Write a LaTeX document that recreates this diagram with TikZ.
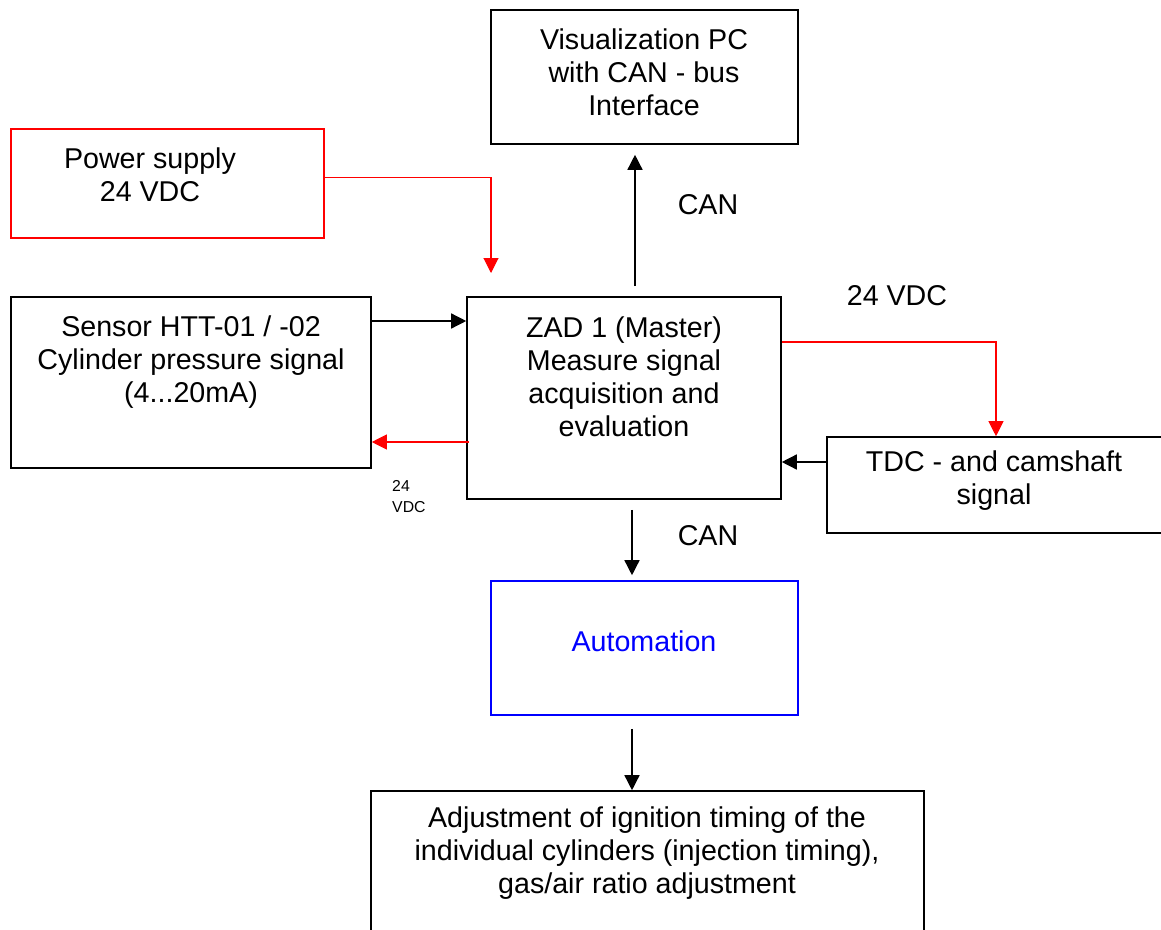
\documentclass[tikz,border=0pt]{standalone}
\usepackage{fontspec}
\setmainfont{Liberation Sans}
\usetikzlibrary{arrows.meta,fit}

\begin{document}
\begin{tikzpicture}[x=0.02cm,y=-0.02cm,
  blk/.style={draw,line width=0.9pt,inner sep=0pt},
  txt/.style={align=center,font=\fontsize{16.3}{18.7}\selectfont},
  sig/.style={line width=0.8pt,-{Triangle[length=0.3cm,width=0.3cm]}},
  pwr/.style={sig,red,line width=0.6pt}]

\useasboundingbox (0,0) rectangle (1161,930);
\clip (0,0) rectangle (1161,930);

% blocks
\node[blk,fit={(491,10) (798,144)}] (viz) {};
\node[txt] (vizText) at (644,72) {Visualization PC\\with CAN - bus\\Interface};

\node[blk,draw=red,fit={(11,129) (324,238)}] (power) {};
\node[txt] (powerText) at (150,175) {Power supply\\24 VDC};

\node[blk,fit={(11,297) (371,468)}] (sensor) {};
\node[txt] (sensorText) at (191,362) {Sensor HTT-01 / -02\\Cylinder pressure signal\\(4...20mA)};

\node[blk,fit={(467,297) (781,499)}] (zad) {};
\node[txt] (zadText) at (624,377) {ZAD 1 (Master)\\Measure signal\\acquisition and\\evaluation};

\node[blk,fit={(827,437) (1170,533)}] (tdc) {};
\node[txt] (tdcText) at (994,481) {TDC - and camshaft\\signal};

\node[blk,draw=blue,fit={(491,581) (798,715)}] (auto) {};
\node[txt,text=blue] (autoText) at (644,641) {Automation};

\node[blk,fit={(371,791) (924,960)}] (adj) {};
\node[txt] (adjText) at (647,853) {Adjustment of ignition timing of the\\individual cylinders (injection timing),\\gas/air ratio adjustment};

% power lines
\coordinate (pwrEnd) at (491,273);
\draw[pwr] ([yshift=0.12cm]power.east) -| (pwrEnd);
\draw[pwr] (zad.east |- 0,342) -| (tdc.north -| 996,0);
\draw[pwr] ([xshift=0.06cm]zad.west |- 0,442) -- (sensor.east |- 0,442);

% signal lines
\draw[sig] (sensor.east |- 0,321) -- (zad.west |- 0,321);
\draw[sig] (tdc.west |- 0,462) -- (zad.east |- 0,462);
\draw[sig,shorten <=0.2cm,shorten >=0.2cm] (zad.north -| 635,0) -- (viz.south -| 635,0);
\draw[sig,shorten <=0.2cm,shorten >=0.1cm] (zad.south -| 632,0) -- (auto.north -| 632,0);
\draw[sig,shorten <=0.26cm] (auto.south -| 632,0) -- (adj.north -| 632,0);

% labels
\node[txt] (canUp) at (708,205) {CAN};
\node[txt] (canDown) at (708,536) {CAN};
\node[txt] (vdcTdc) at (897,296) {24 VDC};
\node[align=left,anchor=west,font=\fontsize{9}{12}\selectfont] (vdcSensor) at (386,497) {24\\VDC};

\end{tikzpicture}
\end{document}
